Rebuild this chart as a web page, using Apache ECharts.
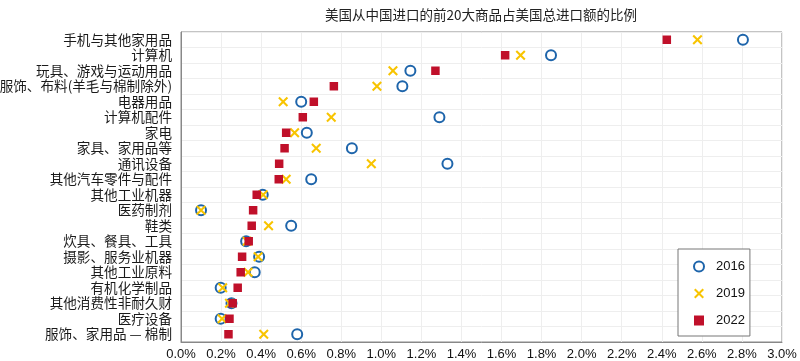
<!DOCTYPE html>
<html>
<head>
<meta charset="utf-8">
<script src="https://cdn.jsdelivr.net/npm/echarts@6/dist/echarts.min.js"></script>
<style>
html,body{margin:0;padding:0;background:#fff;}
#chart{width:800px;height:361px;}
</style>
</head>
<body>
<div id="chart"></div>
<script>
const titleText = '美国从中国进口的前20大商品占美国总进口额的比例';
const categories = ['手机与其他家用品','计算机','玩具、游戏与运动用品','服饰、布料(羊毛与棉制除外)','电器用品','计算机配件','家电','家具、家用品等','通讯设备','其他汽车零件与配件','其他工业机器','医药制剂','鞋类','炊具、餐具、工具','摄影、服务业机器','其他工业原料','有机化学制品','其他消费性非耐久财','医疗设备','服饰、家用品 — 棉制'];
const seriesNames = ['2016','2019','2022'];
const v2016 = [2.805, 1.847, 1.145, 1.105, 0.60, 1.29, 0.628, 0.853, 1.33, 0.65, 0.408, 0.10, 0.55, 0.325, 0.39, 0.368, 0.198, 0.252, 0.198, 0.58];
const v2019 = [2.578, 1.695, 1.058, 0.978, 0.51, 0.75, 0.567, 0.675, 0.95, 0.525, 0.41, 0.10, 0.437, 0.33, 0.385, 0.335, 0.208, 0.242, 0.205, 0.413];
const v2022 = [2.425, 1.618, 1.27, 0.763, 0.663, 0.608, 0.525, 0.517, 0.49, 0.488, 0.378, 0.36, 0.353, 0.338, 0.305, 0.298, 0.283, 0.258, 0.242, 0.237];

const BLUE = '#1e65ab', YELLOW = '#f8c400', RED = '#c0102a';
const t = 1.45;
const xPath = 'path://M0,' + t + 'L' + t + ',0L5,' + (5 - t) + 'L' + (10 - t) + ',0L10,' + t + 'L' + (5 + t) + ',5L10,' + (10 - t) + 'L' + (10 - t) + ',10L5,' + (5 + t) + 'L' + t + ',10L0,' + (10 - t) + 'L' + (5 - t) + ',5Z';
const sqPath = 'path://M0,0L10,0L10,10L0,10Z';

const chart = echarts.init(document.getElementById('chart'), null, {renderer:'canvas'});
chart.setOption({
  animation: false,
  backgroundColor: '#fff',
  title: {
    text: titleText,
    left: 476, top: 3, textAlign: 'center',
    textStyle: {fontFamily: 'Noto Sans CJK SC', fontSize: 13.5, fontWeight: 'normal', color: '#222'}
  },
  grid: {left: 181, right: 18, top: 32, bottom: 19, show: true, borderColor: '#888', borderWidth: 1,
         containLabel: false, outerBoundsMode: 'none'},
  legend: {
    orient: 'vertical', left: 678, top: 249,
    padding: [11, 5, 9, 15], itemGap: 14, itemWidth: 24, itemHeight: 10,
    borderColor: '#777', borderWidth: 1, backgroundColor: '#fff',
    data: seriesNames,
    textStyle: {fontFamily: 'Liberation Sans', fontSize: 13, color: '#111'}
  },
  xAxis: {
    type: 'value', min: 0, max: 3, interval: 0.2,
    axisLine: {show: true, lineStyle: {color: '#888'}},
    axisTick: {show: false},
    axisLabel: {formatter: v => v.toFixed(1) + '%', fontFamily: 'Liberation Sans', fontSize: 13, color: '#111', margin: 6},
    splitLine: {show: true, lineStyle: {color: '#eeeeee'}}
  },
  yAxis: {
    type: 'category', data: categories, inverse: true, boundaryGap: true,
    axisLine: {show: true, lineStyle: {color: '#888'}},
    axisTick: {show: false},
    axisLabel: {fontFamily: 'Noto Sans CJK SC', fontSize: 13.6, color: '#1a1a1a', margin: 9, interval: 0},
    splitLine: {show: true, lineStyle: {color: '#eeeeee'}}
  },
  series: [
    {name: seriesNames[0], type: 'scatter', data: v2016, symbol: 'emptyCircle', symbolSize: 10,
     itemStyle: {color: BLUE, borderColor: BLUE, borderWidth: 2, opacity: 1}, z: 2},
    {name: seriesNames[1], type: 'scatter', data: v2019, symbol: xPath, symbolSize: 10,
     itemStyle: {color: YELLOW, opacity: 1}, z: 3},
    {name: seriesNames[2], type: 'scatter', data: v2022, symbol: sqPath, symbolSize: 8.5,
     itemStyle: {color: RED, opacity: 1}, z: 4}
  ]
});
</script>
</body>
</html>
